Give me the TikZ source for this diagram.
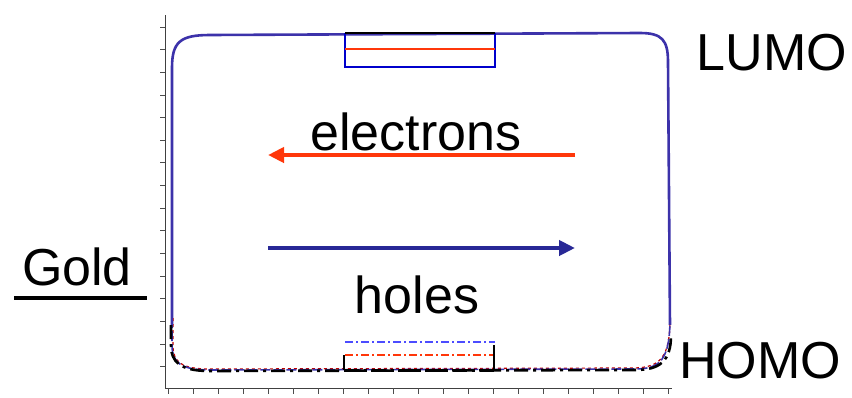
\documentclass[tikz,border=0pt]{standalone}
\usepackage{fontspec}
\setmainfont{Liberation Sans}
\usetikzlibrary{arrows.meta}
\definecolor{curveblue}{RGB}{60,50,170}
\definecolor{elred}{RGB}{255,55,10}
\definecolor{holeblue}{RGB}{40,40,150}
\tikzset{
  lbl/.style={font=\fontsize{52}{60}\selectfont, inner sep=0pt, anchor=base},
  tick/.style={line width=0.9pt, black!70},
  bigarrow/.style={line width=4.5pt, -{Triangle[length=16pt,width=15pt]}},
  dashdot/.style={dash pattern=on 14pt off 5pt on 3pt off 5pt},
}
\begin{document}
\begin{tikzpicture}[x=1pt,y=-1pt]
\useasboundingbox (0,0) rectangle (852,397);
% axes
\draw[line width=0.9pt, black!75] (165,15) -- (165,388) -- (672,388);
\foreach \k in {0,...,15} { \draw[tick] (165,{27+22.65*\k}) -- (160,{27+22.65*\k}); }
\foreach \k in {0,...,20} { \draw[tick] ({168+25*\k},388) -- ({168+25*\k},394); }
% main curve (upper part, solid blue)
\draw[curveblue, line width=2.6pt]
  (172,325) -- (172,68) .. controls (172,42) and (180,35) .. (210,35)
  -- (640,33) .. controls (662,33) and (668,40) .. (668,62)
  -- (670,325);
% lower part (dashed overlays)
\draw[red!75!black, line width=1.2pt, dashed]
  (173,318) -- (173,345) .. controls (173,362) and (181,369) .. (210,369) -- (635,368)
  .. controls (660,367) and (670,358) .. (670,318);
\draw[curveblue, line width=1.6pt, dash pattern=on 10pt off 3pt]
  (172,318) -- (172,345) .. controls (172,362) and (180,370) .. (210,370) -- (635,369)
  .. controls (660,369) and (670,360) .. (670,318);
\draw[black, line width=2.6pt, dashdot]
  (171,325) -- (171,345) .. controls (171,362) and (180,371) .. (210,371) -- (635,370)
  .. controls (660,370) and (671,361) .. (671,335);
% top box
\draw[blue!80!black, line width=1.2pt] (345,33) -- (345,67) -- (495,67) -- (495,33);
\draw[elred, line width=1.6pt] (345,49) -- (495,49);
\draw[black, line width=2.2pt] (345,33) -- (495,33);
% bottom box
\draw[blue!70, line width=1.4pt, dash pattern=on 8pt off 3pt on 2pt off 3pt] (345,342) -- (495,342);
\draw[elred, line width=1.4pt, dash pattern=on 8pt off 3pt on 2pt off 3pt] (345,355) -- (495,355);
\draw[black, line width=1.2pt] (344,355) -- (344,370) (494,345) -- (494,370);
\draw[black, line width=3pt, dashdot] (345,370) -- (495,370);
% labels
\node[lbl] (lumo) at (772,70) {LUMO};
\node[lbl] (homo) at (760,378) {HOMO};
\node[lbl] (el) at (416,150) {electrons};
\node[lbl] (ho) at (417,313) {holes};
\node[lbl] (gold) at (77,285) {Gold};
\coordinate (gl) at (14,298);
\coordinate (gr) at (147,298);
\draw[line width=4pt] (gl) -- (gr);
% arrows
\coordinate (eA) at (575,155);
\coordinate (eB) at (268,155);
\coordinate (hA) at (268,248);
\coordinate (hB) at (575,248);
\draw[bigarrow, elred] (eA) -- (eB);
\draw[bigarrow, holeblue] (hA) -- (hB);
\end{tikzpicture}
\end{document}
